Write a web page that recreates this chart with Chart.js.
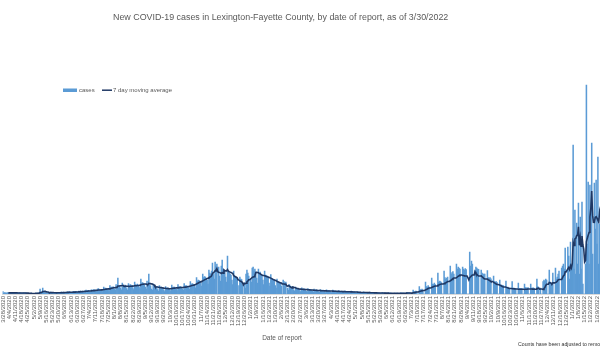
<!DOCTYPE html>
<html><head><meta charset="utf-8">
<script src="https://cdn.jsdelivr.net/npm/chart.js@4.4.1/dist/chart.umd.min.js"></script>
<style>
html,body{margin:0;padding:0;background:#fff;overflow:hidden;width:600px;height:350px;}
#wrap{position:absolute;left:0;top:0;width:660px;height:350px;}
</style></head><body>
<div id="wrap"><canvas id="c" width="660" height="350"></canvas></div>
<script>
// ---- text ----
const titleText = 'New COVID-19 cases in Lexington-Fayette County, by date of report, as of 3/30/2022';
const axisTitleText = 'Date of report';
const footnoteText = 'Counts have been adjusted to remove';
const legendLabels = ['cases', '7 day moving average'];

// ---- categories: one per day, first report date 3/28/2020, tick label every 7th day ----
const firstDay = [2020, 3, 28];
const tickEvery = 7;

// ---- daily new cases ----
const cases2020 = [
 25,8,14,12,10,15,9, 10,6,15,13,11,14,12, 9,5,12,11,8,13,10, 8,6,11,9,12,10,9,
 5,3,7,6,8,5,6, 4,3,9,7,10,8,12, 50,12,18,60,20,15,14, 10,6,18,14,16,20,12,
 8,5,14,12,16,15,13, 9,7,16,18,14,20,17, 12,8,20,22,17,24,19, 14,9,22,25,18,27,23,
 18,12,28,26,30,24,29, 22,15,35,38,30,33,36, 25,18,42,40,38,45,39, 30,22,48,55,41,45,44,
 38,25,70,52,58,55,52, 45,30,85,66,70,68,72, 50,38,95,72,160,75,78, 60,42,110,85,82,90,79,
 55,40,105,80,95,88,83, 62,45,120,92,90,100,86, 70,55,150,110,115,105,95, 68,50,130,95,200,100,82,
 50,38,98,75,80,72,77, 45,30,85,65,70,62,63, 38,25,75,55,62,58,51, 42,30,88,65,68,70,57,
 48,35,95,70,72,75,60, 52,40,105,78,85,82,70, 65,48,125,95,105,100,92, 85,62,165,130,140,135,123,
 110,80,200,165,175,170,150, 140,100,240,210,200,230,310, 200,150,320,280,300,0,270, 180,130,280,340,250,230,220,
 170,120,380,230,210,200,190, 140,95,230,180,175,160,150, 0,85,170,150,145,90,0, 110,60,200,240,210,180
];
const cases2021 = [
 0,
 150,120,260,270,230,250,220, 160,110,250,210,220,195,185, 140,95,230,190,185,180,170, 110,80,195,155,150,145,145,
 85,60,150,125,120,115,115, 80,0,140,125,110,120,0, 60,40,95,80,70,75,70, 40,28,70,55,52,58,47,
 35,25,62,50,48,52,43, 30,22,55,45,42,46,40, 28,18,48,40,38,41,32, 25,16,45,36,35,38,29,
 22,15,42,34,33,35,29, 20,14,38,30,29,32,26, 18,12,35,27,26,28,22, 16,11,32,25,24,26,20,
 15,10,30,22,21,24,18, 12,8,24,18,17,19,14, 10,7,21,16,15,17,12, 9,6,18,13,13,14,11,
 7,5,15,11,11,12,9, 6,4,14,10,10,11,8, 5,3,11,8,8,9,5, 4,2,9,7,7,8,5,
 5,3,12,9,9,10,8, 6,4,16,12,11,12,9, 0,0,40,25,22,30,23, 0,0,75,45,40,48,37,
 0,0,120,75,70,85,70, 0,0,160,100,95,110,95, 0,0,210,120,130,125,115, 0,0,230,165,150,160,170,
 0,0,280,200,215,225,200, 0,0,300,250,270,260,250, 0,0,270,250,240,255,245, 0,0,0,420,280,330,300,
 0,0,233,270,260,250,247, 0,0,240,210,200,200,200, 0,0,233,165,160,165,152, 0,0,180,125,120,125,115,
 0,0,140,90,90,85,85, 0,0,130,65,70,60,60, 0,0,123,60,58,55,54, 0,0,110,55,54,56,54,
 0,0,100,65,62,60,63, 0,0,100,60,58,62,56, 0,0,150,75,65,0,60, 0,0,123,140,130,150,140,
 0,0,240,120,110,100,210, 0,0,260,150,170,200,230, 0,0,260,280,300,250,460, 0,0,470,380,150,520,300
];
const cases2022 = [
 300,1490,250,840,200,710,300, 910,200,770,250,920,100,0, 0,300,2090,500,1120,300,1090,
 600,1510,400,0,1110,650,1140, 500,1370,300,700,
 800,600,650,0,0,1100,500, 520,480,420,0,0,900,380, 360,330,300,0,0,620,280, 250,220,200,0,0,420,190,
 170,150,140,0,0,300,130, 120,110,95,0,0,210,90, 85,80,70,0,0,150,65, 60,58,52,0,0,120,50, 45
];

const cases = cases2020.concat(cases2021, cases2022);

// date labels
const labels = [];
{
  const d = new Date(firstDay[0], firstDay[1] - 1, firstDay[2], 12);
  for (let i = 0; i < cases.length; i++) {
    labels.push((d.getMonth() + 1) + '/' + d.getDate() + '/' + d.getFullYear());
    d.setDate(d.getDate() + 1);
  }
}

// 7 day moving average of the cases
const movingAvg = cases.map((v, i) => {
  if (i < 6) return null;
  let s = 0;
  for (let j = i - 6; j <= i; j++) s += cases[j];
  return s / 7;
});

const barColor = '#5B9BD5';
const lineColor = '#1F3864';
const textGray = '#595959';
const fontFam = '"Liberation Sans", Arial, sans-serif';

const overlay = {
  id: 'overlay',
  afterDraw(chart) {
    const ctx = chart.ctx;
    ctx.save();
    ctx.textBaseline = 'middle';
    // title
    ctx.fillStyle = textGray;
    ctx.font = '10px ' + fontFam;
    let w = ctx.measureText(titleText).width;
    let size = 10 * 336 / w;
    ctx.font = size.toFixed(2) + 'px ' + fontFam;
    ctx.textAlign = 'left';
    ctx.fillText(titleText, 113, 17.5);
    // legend
    ctx.fillStyle = barColor;
    ctx.fillRect(63, 88.5, 14, 3.5);
    ctx.fillStyle = textGray;
    ctx.font = '6px ' + fontFam;
    ctx.fillText(legendLabels[0], 79, 90.5);
    ctx.strokeStyle = lineColor;
    ctx.lineWidth = 1.5;
    ctx.beginPath(); ctx.moveTo(102, 90.2); ctx.lineTo(112, 90.2); ctx.stroke();
    ctx.fillText(legendLabels[1], 113, 90.5);
    // axis title
    ctx.font = '6.5px ' + fontFam;
    ctx.textAlign = 'center';
    ctx.fillText(axisTitleText, 282, 338);
    // footnote
    ctx.fillStyle = '#333333';
    ctx.font = '5.2px ' + fontFam;
    ctx.textAlign = 'left';
    ctx.fillText(footnoteText, 518, 345);
    ctx.restore();
  }
};

new Chart(document.getElementById('c'), {
  data: {
    labels: labels,
    datasets: [
      { type: 'line', label: legendLabels[1], data: movingAvg, borderColor: lineColor, borderWidth: 1.6,
        pointRadius: 0, tension: 0, fill: false, order: 0, spanGaps: false },
      { type: 'bar', label: legendLabels[0], data: cases, backgroundColor: barColor,
        barPercentage: 1, categoryPercentage: 1, order: 1 }
    ]
  },
  options: {
    responsive: false,
    animation: false,
    devicePixelRatio: 1,
    layout: { padding: { left: 2.5, right: 9.5, top: 44, bottom: 0 } },
    plugins: { legend: { display: false }, title: { display: false }, tooltip: { enabled: false } },
    scales: {
      x: {
        grid: { display: false, drawTicks: false },
        border: { display: true, color: '#d9d9d9', width: 1 },
        ticks: {
          autoSkip: false, minRotation: 90, maxRotation: 90, padding: 2,
          color: textGray, font: { family: fontFam, size: 6 },
          callback: (v, i) => (i % tickEvery === 0 ? labels[i] : null)
        },
        afterFit: (s) => { s.height = 56; }
      },
      y: { display: false, min: 0, max: 2500 }
    }
  },
  plugins: [overlay]
});
</script>
</body></html>
